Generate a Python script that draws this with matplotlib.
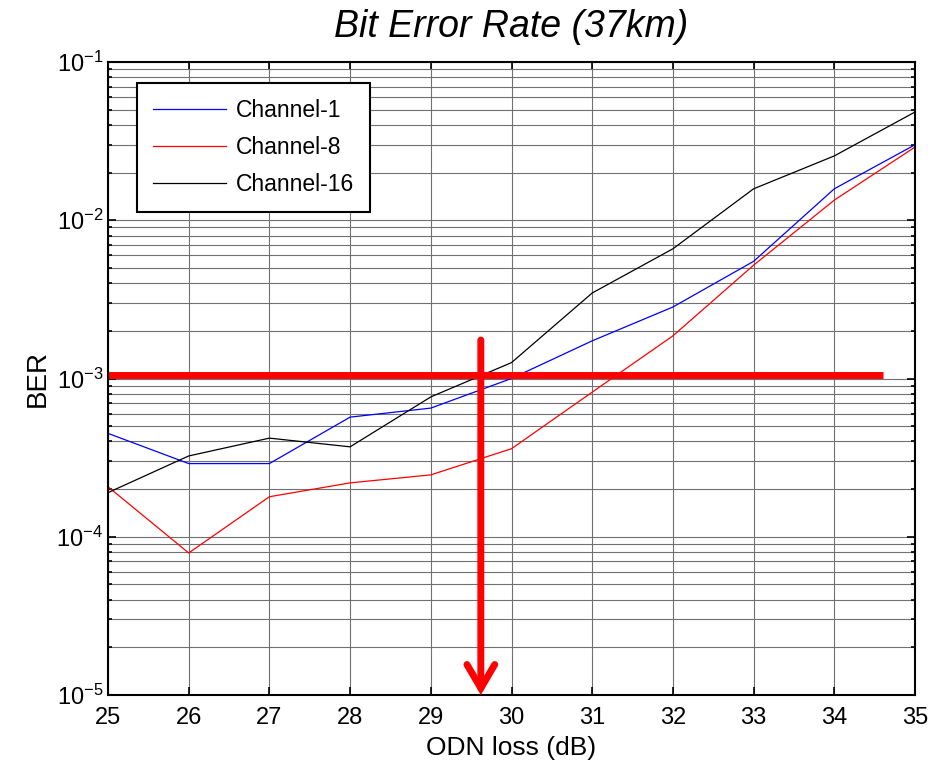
import matplotlib
matplotlib.use('Agg')
import matplotlib.pyplot as plt
from matplotlib.ticker import LogLocator, NullFormatter

plt.rcParams['font.family'] = ['Liberation Sans', 'DejaVu Sans']
plt.rcParams['mathtext.fontset'] = 'custom'
plt.rcParams['mathtext.rm'] = 'Liberation Sans'
plt.rcParams['mathtext.it'] = 'Liberation Sans:italic'
plt.rcParams['mathtext.default'] = 'regular'

odn_loss = [25, 26, 27, 28, 29, 30, 31, 32, 33, 34, 35]
ber_ch1 = [4.5e-4, 2.9e-4, 2.9e-4, 5.7e-4, 6.5e-4, 1.0e-3, 1.73e-3, 2.83e-3, 5.5e-3, 1.58e-2, 3.0e-2]
ber_ch8 = [2.07e-4, 7.9e-5, 1.79e-4, 2.19e-4, 2.46e-4, 3.6e-4, 8.2e-4, 1.86e-3, 5.2e-3, 1.34e-2, 2.9e-2]
ber_ch16 = [1.9e-4, 3.24e-4, 4.2e-4, 3.7e-4, 7.65e-4, 1.26e-3, 3.47e-3, 6.6e-3, 1.58e-2, 2.55e-2, 4.83e-2]

fec_limit = 1.05e-3
fec_x = [25.0, 34.6]
cross_x = 29.62
cross_top = 1.75e-3

fig = plt.figure(figsize=(9.33, 7.69), dpi=100)
ax = fig.add_axes([108 / 933, 1 - 695 / 769, (915 - 108) / 933, (695 - 62) / 769])

ax.semilogy(odn_loss, ber_ch1, color='#0000ff', lw=0.9, label='Channel-1')
ax.semilogy(odn_loss, ber_ch8, color='#ff0000', lw=0.9, label='Channel-8')
ax.semilogy(odn_loss, ber_ch16, color='#000000', lw=0.9, label='Channel-16')

ax.plot(fec_x, [fec_limit, fec_limit], color='#ff0000', lw=5, solid_capstyle='butt')
ax.annotate('', xy=(cross_x, 1e-5), xytext=(cross_x, cross_top),
            arrowprops=dict(arrowstyle='->,head_length=0.85,head_width=0.5',
                            mutation_scale=20, color='#ff0000', lw=5,
                            capstyle='round', joinstyle='miter',
                            shrinkA=0, shrinkB=0))

ax.set_xlim(25, 35)
ax.set_ylim(1e-5, 1e-1)
ax.set_xticks(odn_loss)
ax.yaxis.set_major_locator(LogLocator(base=10, numticks=10))
ax.yaxis.set_minor_locator(LogLocator(base=10, subs=range(2, 10), numticks=20))
ax.yaxis.set_minor_formatter(NullFormatter())

ax.grid(True, which='major', color='#707070', lw=0.8)
ax.grid(True, which='minor', axis='y', color='#707070', lw=0.8)
ax.tick_params(which='both', direction='in', top=True, right=True, labelsize=17, width=1.2)
ax.tick_params(axis='x', pad=9)
ax.tick_params(which='major', length=6)
ax.tick_params(which='minor', length=3)
for s in ax.spines.values():
    s.set_linewidth(1.5)

ax.set_title('Bit Error Rate (37km)', fontsize=27, style='italic', pad=18)
ax.set_xlabel('ODN loss (dB)', fontsize=19, labelpad=5)
ax.set_ylabel('BER', fontsize=20, labelpad=4)

leg = ax.legend(loc='upper left', bbox_to_anchor=(0.036, 0.967), borderaxespad=0,
                fontsize=16.5, fancybox=False, framealpha=1, edgecolor='black',
                handlelength=3.2, handletextpad=0.4, borderpad=0.7, labelspacing=0.62)
leg.get_frame().set_linewidth(1.5)

fig.savefig('out.png', dpi=100)
